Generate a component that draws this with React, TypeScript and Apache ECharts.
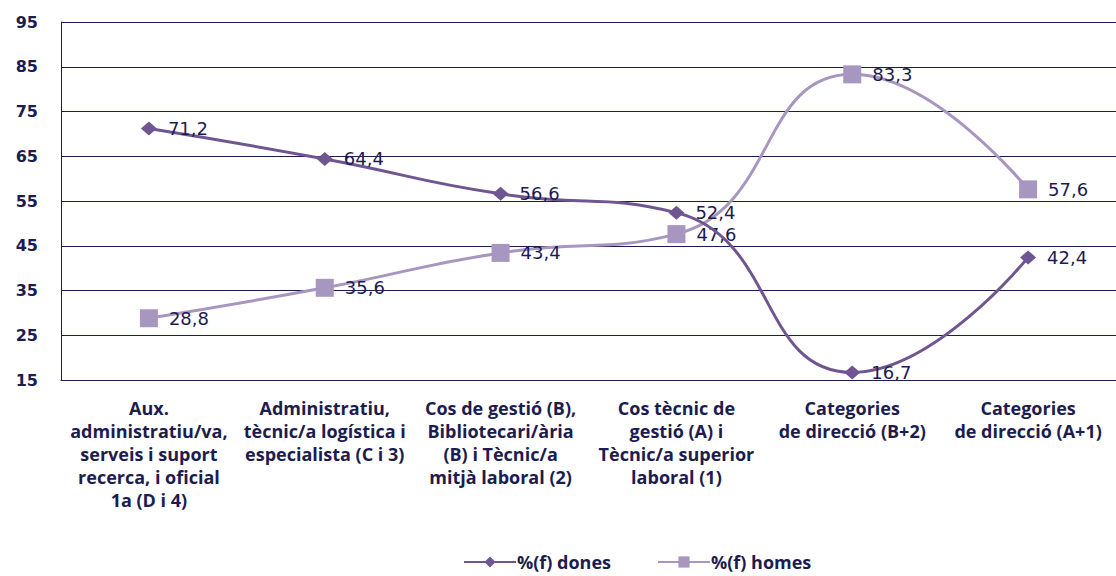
import React, { useEffect, useRef } from "react";
import * as echarts from "echarts";

const categories = [
  "Aux.\nadministratiu/va,\nserveis i suport\nrecerca, i oficial\n1a (D i 4)",
  "Administratiu,\ntècnic/a logística i\nespecialista (C i 3)",
  "Cos de gestió (B),\nBibliotecari/ària\n(B) i Tècnic/a\nmitjà laboral (2)",
  "Cos tècnic de\ngestió (A) i\nTècnic/a superior\nlaboral (1)",
  "Categories\nde direcció (B+2)",
  "Categories\nde direcció (A+1)",
];
const dones = [71.2, 64.4, 56.6, 52.4, 16.7, 42.4];
const homes = [28.8, 35.6, 43.4, 47.6, 83.3, 57.6];
const seriesNames = ["%(f) dones", "%(f) homes"];

const NAVY = "#1c1c4f";
const DARK = "#6f5690";
const LIGHT = "#a796bf";
const CAT_FONT = "Open Sans";

export default function App() {
  const ref = useRef<HTMLDivElement>(null);
  useEffect(() => {
    document.body.style.margin = "0";
    const chart = echarts.init(ref.current!, null, { renderer: "svg" });
    const fmt = (p: any) => String(p.value).replace(".", ",");
    const labelStyle = {
      show: true,
      position: "right",
      distance: 11,
      formatter: fmt,
      fontFamily: "DejaVu Sans",
      fontSize: 18,
      color: NAVY,
    };
    chart.setOption({
      animation: false,
      backgroundColor: "#ffffff",
      grid: { left: 61, right: -3, top: 22, bottom: 196, containLabel: false },
      legend: {
        left: 458,
        bottom: 0,
        itemWidth: 52,
        itemHeight: 14,
        itemGap: 46,
        textStyle: { fontFamily: CAT_FONT, fontWeight: "bold", fontSize: 18, color: NAVY, padding: [0, 0, 0, -4] },
        data: [seriesNames[0], seriesNames[1]],
      },
      xAxis: {
        type: "category",
        data: categories,
        boundaryGap: true,
        axisLine: { show: true, lineStyle: { color: NAVY, width: 1 } },
        axisTick: { show: false },
        axisLabel: {
          interval: 0,
          margin: 16,
          fontFamily: CAT_FONT,
          fontWeight: "bold",
          fontSize: 18,
          lineHeight: 23,
          color: NAVY,
          align: "center",
        },
      },
      yAxis: {
        type: "value",
        min: 15,
        max: 95,
        interval: 10,
        axisLine: { show: true, lineStyle: { color: NAVY, width: 1 } },
        axisTick: { show: false },
        splitLine: { show: true, lineStyle: { color: NAVY, width: 1 } },
        axisLabel: {
          margin: 23,
          fontFamily: "DejaVu Sans",
          fontWeight: "bold",
          fontSize: 16,
          color: NAVY,
        },
      },
      series: [
        {
          name: seriesNames[0],
          type: "line",
          data: dones,
          smooth: 0.5,
          symbol: "diamond",
          symbolSize: [16, 14],
          lineStyle: { color: DARK, width: 3 },
          itemStyle: { color: DARK },
          label: labelStyle,
          z: 3,
        },
        {
          name: seriesNames[1],
          type: "line",
          data: homes,
          smooth: 0.5,
          symbol: "rect",
          symbolSize: 18,
          lineStyle: { color: LIGHT, width: 3 },
          itemStyle: { color: LIGHT },
          label: labelStyle,
          z: 2,
        },
      ],
    });
    return () => chart.dispose();
  }, []);
  return (
    <div
      ref={ref}
      style={{ position: "absolute", left: 0, top: 0, width: 1116, height: 576 }}
    />
  );
}
